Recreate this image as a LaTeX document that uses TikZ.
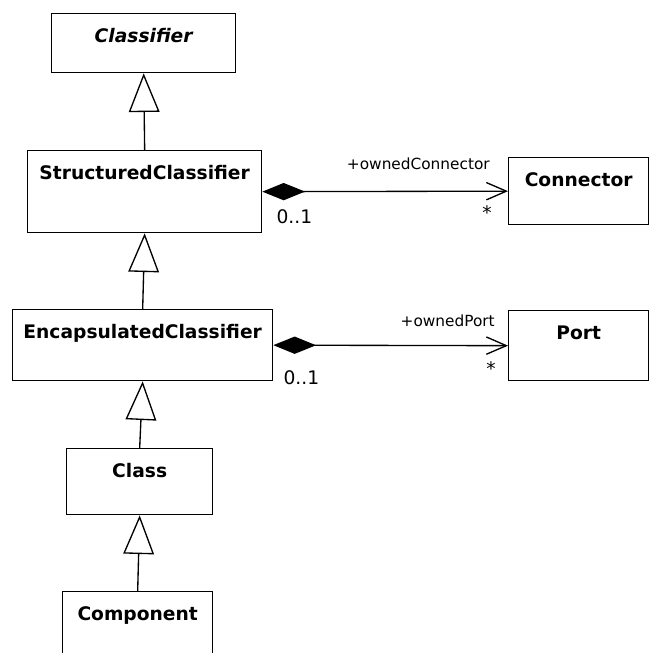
\documentclass[tikz,border=0pt]{standalone}
\usepackage{fontspec}
\setmainfont{DejaVu Sans}
\usepackage{tikz}
\usetikzlibrary{arrows.meta,calc}

\begin{document}
\begin{tikzpicture}[x=0.75pt, y=-0.75pt,
    box/.style={draw, line width=1pt, rectangle, anchor=north west,
      inner xsep=0pt, inner ysep=0pt, text height=21.75pt,
      font=\fontsize{14}{16}\selectfont\bfseries},
    gen/.style={line width=1pt, -{Triangle[open, length=29pt, width=23pt, fill=white]}},
    comp/.style={line width=1pt,
      {Diamond[length=32pt, width=13pt, fill=black]}-{Straight Barb[length=15pt, width=13pt]}},
    role/.style={font=\fontsize{11.5}{13}\selectfont, inner sep=0pt},
    mult/.style={font=\fontsize{14}{16}\selectfont, inner sep=0pt}]
  %% Frame
  \useasboundingbox (0,0) rectangle (652,653);
  \clip (0,0) rectangle (652,653);

  %% Classes (left column)
  \node[box, minimum width=138pt, text depth=22.5pt] (cls) at (51,13) {\itshape Classifier};
  \node[box, minimum width=175.5pt, text depth=39.75pt] (sc) at (27,150) {StructuredClassifier};
  \node[box, minimum width=195pt, text depth=31.5pt] (ec) at (12,309) {EncapsulatedClassifier};
  \node[box, minimum width=109.5pt, text depth=27.75pt] (klass) at (66,448) {Class};
  \node[box, minimum width=112.5pt, text depth=37.5pt] (comp) at (62,591) {Component};

  %% Classes (right column)
  \node[box, minimum width=105pt, text depth=28.5pt] (conn) at (508,157) {Connector};
  \node[box, minimum width=105pt, text depth=30.75pt] (port) at (508,310) {Port};

  %% Generalizations
  \draw[gen] (sc.north) -- (cls.south);
  \draw[gen] (ec.north) -- (sc.south);
  \draw[gen] (klass.north) -- (ec.south);
  \draw[gen] (comp.north) -- (klass.south);

  %% Compositions
  \draw[comp] (sc.east) -- (conn.west);
  \node[role, anchor=east] (rconn) at ($(conn.west)+(-18,-27)$) {+ownedConnector};
  \node[mult, anchor=west] (msc) at ($(sc.east)+(14,25)$) {0..1};
  \node[mult] (mconn) at ($(conn.west)+(-21,21)$) {*};

  \draw[comp] (ec.east) -- (port.west);
  \node[role, anchor=east] (rport) at ($(port.west)+(-13,-25)$) {+ownedPort};
  \node[mult, anchor=west] (mec) at ($(ec.east)+(10,33)$) {0..1};
  \node[mult] (mport) at ($(port.west)+(-17,23)$) {*};
\end{tikzpicture}
\end{document}
